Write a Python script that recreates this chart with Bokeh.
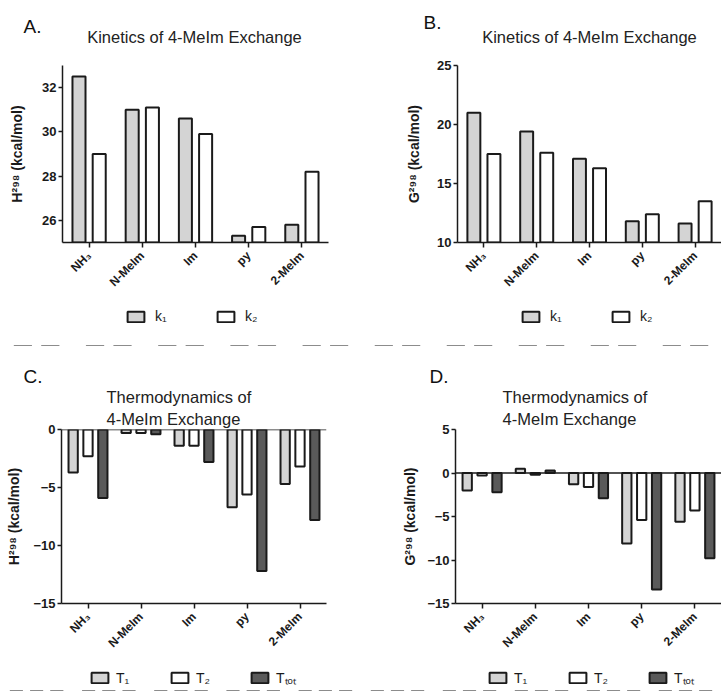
import math
from bokeh.plotting import figure
from bokeh.layouts import column, row
from bokeh.models import (FactorRange, Range1d, FixedTicker, Legend, LegendItem,
                          Label, Span, ColumnDataSource)
from bokeh.transform import dodge
from bokeh.embed import file_html
from bokeh.resources import INLINE

# ---------------- data ----------------
ligands = ["NH₃", "N-MeIm", "Im", "py", "2-MeIm"]

# A: activation enthalpy, k1 / k2 (kcal/mol)
a_k1 = [32.5, 31.0, 30.6, 25.3, 25.8]
a_k2 = [29.0, 31.1, 29.9, 25.7, 28.2]
a_ticks = [26, 28, 30, 32]
a_range = (25, 33)

# B: activation free energy, k1 / k2 (kcal/mol)
b_k1 = [21.0, 19.4, 17.1, 11.8, 11.6]
b_k2 = [17.5, 17.6, 16.3, 12.4, 13.5]
b_ticks = [10, 15, 20, 25]
b_range = (10, 25)

# C: reaction enthalpy, T1 / T2 / Ttot (kcal/mol)
c_t1 = [-3.7, -0.3, -1.4, -6.7, -4.7]
c_t2 = [-2.3, -0.3, -1.4, -5.6, -3.2]
c_tot = [-5.9, -0.4, -2.8, -12.2, -7.8]
c_ticks = [-15, -10, -5, 0]
c_range = (-15, 0)

# D: reaction free energy, T1 / T2 / Ttot (kcal/mol)
d_t1 = [-2.0, 0.5, -1.3, -8.1, -5.6]
d_t2 = [-0.3, -0.2, -1.6, -5.4, -4.3]
d_tot = [-2.2, 0.3, -2.9, -13.4, -9.8]
d_ticks = [-15, -10, -5, 0, 5]
d_range = (-15, 5)

kin_title = "Kinetics of 4-MeIm Exchange"
thermo_title = "Thermodynamics of\n4-MeIm Exchange"
h_label = "H²⁹⁸ (kcal/mol)"
g_label = "G²⁹⁸ (kcal/mol)"
kin_series = ["k₁", "k₂"]
thermo_series = ["T₁", "T₂", "Tₜₒₜ"]

# ---------------- style ----------------
FONT = "Liberation Sans"
INK = "#1a1a1a"
LIGHT = "#d4d4d4"
WHITE = "#ffffff"
DARK = "#5a5a5a"
KIN_STYLE = [("k1", -0.19, LIGHT), ("k2", 0.19, WHITE)]
THERMO_STYLE = [("t1", -0.28, LIGHT), ("t2", 0.0, WHITE), ("tot", 0.28, DARK)]


def blank_fig(width, height, x_range, y_range):
    f = figure(width=width, height=height, x_range=x_range, y_range=y_range,
               x_axis_type=None, y_axis_type=None, output_backend="svg",
               toolbar_location=None, min_border=0, min_border_left=0,
               min_border_right=0, min_border_top=0, min_border_bottom=0)
    f.title.visible = False
    f.outline_line_color = None
    f.xgrid.visible = False
    f.ygrid.visible = False
    f.background_fill_color = "white"
    f.border_fill_color = "white"
    return f


def header(width, height, letter, lx, ly, title=None, tx=None, ty=None):
    f = blank_fig(width, height, Range1d(0, 1), Range1d(0, 1))
    f.add_layout(Label(x=lx, y=ly, x_units="screen", y_units="screen", text=letter,
                       text_font=FONT, text_font_size="19px", text_color="#111111",
                       text_baseline="alphabetic", text_align="left"))
    if title is not None:
        f.add_layout(Label(x=tx, y=ty, x_units="screen", y_units="screen", text=title,
                           text_font=FONT, text_font_size="16.5px", text_color="#222222",
                           text_baseline="alphabetic", text_align="center"))
    return f


def legend_strip(width, height, src, style, labels, bottom, vx, vy, spacing, standoff, bw):
    # legend keys come from the same bar series, drawn outside this strip's visible y-range
    f = blank_fig(width, height, FactorRange(factors=ligands), Range1d(1000, 1001))
    rs = [f.vbar(x=dodge("cat", off, range=f.x_range), top=col, bottom=bottom, width=bw,
                 source=src, fill_color=fill, line_color=INK, line_width=2)
          for col, off, fill in style]
    leg = Legend(items=[LegendItem(label=lab, renderers=[r]) for lab, r in zip(labels, rs)],
                 location=(vx, vy), orientation="horizontal", padding=0, margin=0,
                 spacing=spacing, glyph_width=21, glyph_height=13,
                 label_standoff=standoff, label_width=20, label_height=13,
                 border_line_color=None, background_fill_alpha=0,
                 label_text_font=FONT, label_text_font_size="14px",
                 label_text_color=INK)
    f.add_layout(leg, "center")
    return f


def base_fig(width, height, yr, yticks, ylabel, border, ylabel_standoff):
    l, r, t, b = border
    p = figure(width=width, height=height,
               x_range=FactorRange(factors=ligands), y_range=Range1d(*yr),
               output_backend="svg", toolbar_location=None,
               min_border_left=l, min_border_right=r,
               min_border_top=t, min_border_bottom=b)
    p.outline_line_color = None
    p.xgrid.visible = False
    p.ygrid.visible = False
    p.background_fill_color = "white"
    p.border_fill_color = "white"
    for ax in (p.xaxis[0], p.yaxis[0]):
        ax.axis_line_color = INK
        ax.axis_line_width = 1.5
        ax.major_tick_line_color = INK
        ax.major_tick_line_width = 1.5
        ax.major_tick_in = 0
        ax.minor_tick_line_color = None
        ax.major_label_text_font = FONT
        ax.major_label_text_font_style = "bold"
        ax.major_label_text_color = INK
    xa = p.xaxis[0]
    xa.major_tick_out = 5
    xa.major_label_orientation = math.pi / 4
    xa.major_label_text_font_size = "12px"
    xa.major_label_standoff = 6
    ya = p.yaxis[0]
    ya.major_tick_out = 4
    ya.major_label_standoff = 2
    ya.major_label_text_font_size = "13px"
    ya.ticker = FixedTicker(ticks=yticks)
    ya.axis_label = ylabel
    ya.axis_label_text_font = FONT
    ya.axis_label_text_font_style = "bold"
    ya.axis_label_text_font_size = "14px"
    ya.axis_label_text_color = INK
    ya.axis_label_standoff = ylabel_standoff
    return p


def kin_panel(width, height, border, src, yr, yticks, ylabel, ylabel_standoff):
    p = base_fig(width, height, yr, yticks, ylabel, border, ylabel_standoff)
    p.title.visible = False
    for col, off, fill in KIN_STYLE:
        p.vbar(x=dodge("cat", off, range=p.x_range), top=col, bottom=yr[0],
               width=0.245, source=src, fill_color=fill, line_color=INK, line_width=2)
    return p


def thermo_panel(width, height, border, src, yr, yticks, ylabel, ylabel_standoff,
                 title_offset):
    p = base_fig(width, height, yr, yticks, ylabel, border, ylabel_standoff)
    p.title.text = thermo_title
    p.title.text_font = FONT
    p.title.text_font_size = "16.5px"
    p.title.text_font_style = "normal"
    p.title.text_color = "#222222"
    p.title.text_line_height = 1.2
    p.title.align = "left"
    p.title.offset = title_offset
    p.title.standoff = 3
    for col, off, fill in THERMO_STYLE:
        p.vbar(x=dodge("cat", off, range=p.x_range), top=col, bottom=0,
               width=0.175, source=src, fill_color=fill, line_color=INK, line_width=2)
    p.add_layout(Span(location=0, dimension="width", line_color=INK, line_width=1.5))
    return p


src_a = ColumnDataSource(dict(cat=ligands, k1=a_k1, k2=a_k2))
src_b = ColumnDataSource(dict(cat=ligands, k1=b_k1, k2=b_k2))
src_c = ColumnDataSource(dict(cat=ligands, t1=c_t1, t2=c_t2, tot=c_tot))
src_d = ColumnDataSource(dict(cat=ligands, t1=d_t1, t2=d_t2, tot=d_tot))

# ---- top half: A | B ----
hA = header(361, 57, "A.", 23, 31, kin_title, 194, 21)
hB = header(360, 57, "B.", 62, 35, kin_title, 228, 21)
pA = kin_panel(361, 243, (62, 33, 8, 58), src_a, a_range, a_ticks, h_label, 14)
pB = kin_panel(360, 243, (96, 0, 8, 58), src_b, b_range, b_ticks, g_label, 12)
lA = legend_strip(361, 46, src_a, KIN_STYLE, kin_series, a_range[0], 125, 22, 40, 9, 0.245)
lB = legend_strip(360, 46, src_b, KIN_STYLE, kin_series, b_range[0], 159, 22, 40, 9, 0.245)

# ---- bottom half: C | D ----
hC = header(361, 38, "C.", 23, 8)
hD = header(360, 38, "D.", 68, 8)
pC = thermo_panel(361, 274, (61, 35, 42, 54), src_c, c_range, c_ticks, h_label, 8, 45)
pD = thermo_panel(360, 274, (94, 0, 42, 54), src_d, d_range, d_ticks, g_label, 6, 47)
lC = legend_strip(361, 33, src_c, THERMO_STYLE, thermo_series, 0, 89, 4, 33, 6, 0.175)
lD = legend_strip(360, 33, src_d, THERMO_STYLE, thermo_series, 0, 126, 4, 33, 6, 0.175)

layout = column(row(hA, hB), row(pA, pB), row(lA, lB),
                row(hC, hD), row(pC, pD), row(lC, lD))

with open("out.html", "w") as f:
    f.write(file_html(layout, INLINE))
